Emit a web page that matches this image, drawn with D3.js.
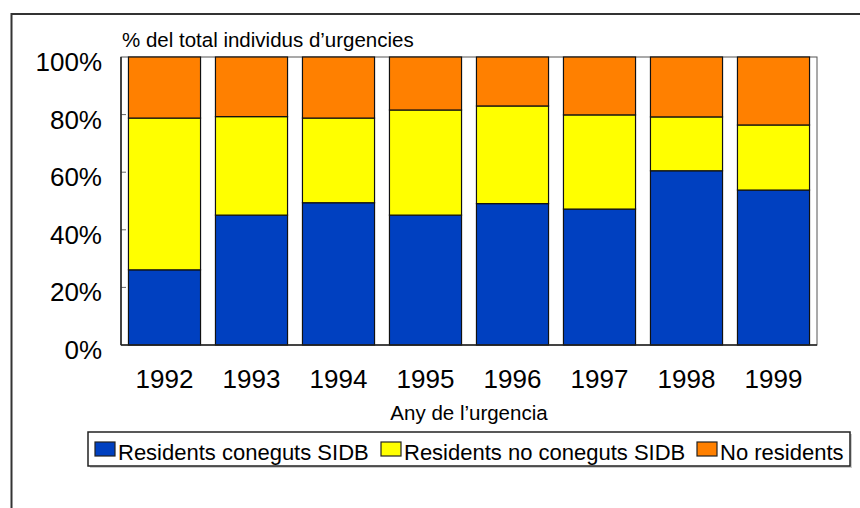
<!DOCTYPE html>
<html>
<head>
<meta charset="utf-8">
<script src="https://cdn.jsdelivr.net/npm/d3@7"></script>
<style>
  html, body { margin: 0; padding: 0; background: #fff; }
  svg { display: block; font-family: "Liberation Sans", Arial, sans-serif; }
</style>
</head>
<body>
<script>
// ---- data ----
const years = ["1992", "1993", "1994", "1995", "1996", "1997", "1998", "1999"];
const seriesNames = ["Residents coneguts SIDB", "Residents no coneguts SIDB", "No residents"];
const residentsConeguts   = [26.1, 45.1, 49.4, 45.1, 49.1, 47.2, 60.5, 53.8];
const residentsNoConeguts = [52.7, 34.2, 29.4, 36.5, 33.9, 32.7, 18.7, 22.6];
const noResidents         = [21.2, 20.7, 21.2, 18.4, 17.0, 20.1, 20.8, 23.6];
const yTicks = [0, 20, 40, 60, 80, 100];
const colors = ["#0040C0", "#FFFF00", "#FF8000"];
const titleText = "% del total individus d\u2019urgencies";
const xTitle = "Any de l\u2019urgencia";

const W = 860, H = 508;
const svg = d3.select("body").append("svg").attr("width", W).attr("height", H);

// outer frame
svg.append("rect").attr("x", 11.5).attr("y", 14).attr("width", 900).attr("height", 600)
  .attr("fill", "none").attr("stroke", "#333").attr("stroke-width", 2);

const plot = { left: 121, right: 817, top: 57, bottom: 345 };

const x = d3.scaleBand().domain(years).range([plot.left, plot.right])
  .paddingInner(0.16).paddingOuter(0.08);
const y = d3.scaleLinear().domain([0, 100]).range([plot.bottom, plot.top]);

// plot area
svg.append("rect").attr("x", plot.left).attr("y", plot.top)
  .attr("width", plot.right - plot.left).attr("height", plot.bottom - plot.top)
  .attr("fill", "#fff").attr("stroke", "#555").attr("stroke-width", 1);

// stacked data
const table = years.map((yr, i) => ({
  year: yr,
  s0: residentsConeguts[i],
  s1: residentsNoConeguts[i],
  s2: noResidents[i]
}));
const stack = d3.stack().keys(["s0", "s1", "s2"]);
const stacked = stack(table);

// y tick marks (small, inside)
svg.append("g").selectAll("line").data(yTicks.filter(t => t > 0 && t < 100)).join("line")
  .attr("x1", plot.left).attr("x2", plot.left + 5)
  .attr("y1", d => y(d)).attr("y2", d => y(d))
  .attr("stroke", "#666").attr("stroke-width", 1);

svg.append("g").selectAll("g").data(stacked).join("g")
  .attr("fill", (d, i) => colors[i])
  .selectAll("rect").data(d => d).join("rect")
  .attr("x", d => x(d.data.year) + 0.5)
  .attr("y", d => y(d[1]))
  .attr("width", x.bandwidth() - 1)
  .attr("height", d => y(d[0]) - y(d[1]))
  .attr("stroke", "#111").attr("stroke-width", 1.2);

// y axis labels
const yAxis = d3.axisLeft(y).tickValues(yTicks).tickFormat(d => d + "%").tickSize(0).tickPadding(19);
const gy = svg.append("g").attr("transform", `translate(${plot.left},0)`).call(yAxis);
gy.select(".domain").remove();
gy.selectAll("text").attr("font-size", 26).attr("fill", "#000")
  .attr("font-family", "Liberation Sans, Arial, sans-serif").attr("dy", "0.52em");

// x axis labels
const xAxis = d3.axisBottom(x).tickSize(0).tickPadding(0);
const gx = svg.append("g").attr("transform", `translate(0,${plot.bottom})`).call(xAxis);
gx.select(".domain").remove();
gx.selectAll("text").attr("font-size", 26).attr("fill", "#000")
  .attr("font-family", "Liberation Sans, Arial, sans-serif")
  .attr("dy", null).attr("y", 43);

// left axis and bottom line stronger
svg.append("line").attr("x1", plot.left).attr("x2", plot.left).attr("y1", plot.top).attr("y2", plot.bottom)
  .attr("stroke", "#222").attr("stroke-width", 1.5);
svg.append("line").attr("x1", plot.left).attr("x2", plot.right).attr("y1", plot.bottom).attr("y2", plot.bottom)
  .attr("stroke", "#222").attr("stroke-width", 1.5);

// title
svg.append("text").attr("x", 122).attr("y", 46.5).attr("font-size", 20.5).attr("fill", "#000")
  .text(titleText);

// x title
svg.append("text").attr("x", (plot.left + plot.right) / 2).attr("y", 420)
  .attr("text-anchor", "middle").attr("font-size", 20.5).attr("fill", "#000").text(xTitle);

// legend
const lg = svg.append("g");
lg.append("rect").attr("x", 90).attr("y", 434).attr("width", 762).attr("height", 34).attr("fill", "#ccc");
lg.append("rect").attr("x", 88).attr("y", 432).attr("width", 762).attr("height", 34)
  .attr("fill", "#fff").attr("stroke", "#222").attr("stroke-width", 1.5);
const legendX = [95, 381, 697];
const items = lg.selectAll("g.item").data(seriesNames).join("g").attr("class", "item")
  .attr("transform", (d, i) => `translate(${legendX[i]},0)`);
items.append("rect").attr("x", 0).attr("y", 442).attr("width", 20).attr("height", 14)
  .attr("fill", (d, i) => colors[i]).attr("stroke", "#222").attr("stroke-width", 1.2);
items.append("text").attr("x", 23).attr("y", 460).attr("font-size", 22).attr("fill", "#000")
  .text(d => d);
</script>
</body>
</html>
